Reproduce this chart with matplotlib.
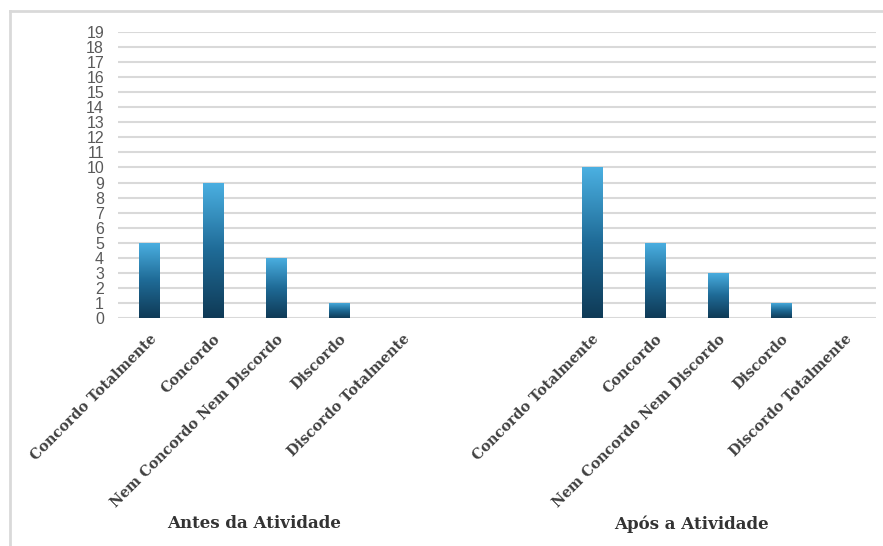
import numpy as np
import matplotlib
matplotlib.use("Agg")
import matplotlib.pyplot as plt
from matplotlib.colors import LinearSegmentedColormap
from matplotlib.lines import Line2D
import matplotlib.transforms as mtransforms

categories = ["Concordo Totalmente", "Concordo", "Nem Concordo Nem Discordo",
              "Discordo", "Discordo Totalmente"]
antes = [5, 9, 4, 1, 0]
apos = [10, 5, 3, 1, 0]
groups = ["Antes da Atividade", "Após a Atividade"]
yticks = list(range(0, 20))

fig = plt.figure(figsize=(8.83, 5.46), dpi=100)
ax = fig.add_axes([118/883, 1-318/546, (876-118)/883, (318-32)/546])

pos1 = np.arange(5)
pos2 = np.arange(7, 12)
positions = np.concatenate([pos1, pos2])
values = antes + apos
labels = categories + categories

width = 0.32
bars = ax.bar(positions, values, width=width, facecolor="none", edgecolor="none", zorder=5)

cmap = LinearSegmentedColormap.from_list("g", ["#0f3a56", "#1f6b97", "#4bb0e2"])
grad = np.linspace(0, 1, 256).reshape(-1, 1)
for b in bars:
    h = b.get_height()
    if h <= 0:
        continue
    x0 = b.get_x()
    w = b.get_width()
    im = ax.imshow(grad, extent=[x0, x0 + w, 0, h], origin="lower",
                   cmap=cmap, aspect="auto", zorder=6, interpolation="bilinear")
    im.set_clip_path(b)

ax.set_xlim(-0.5, 11.5)
ax.set_ylim(0, 19)
ax.set_yticks(yticks)
ax.set_yticklabels([str(t) for t in yticks], fontsize=11.5, color="#595959",
                   family="Liberation Sans")
ax.tick_params(axis="y", length=0, pad=10)
ax.yaxis.grid(True, color="#d9d9d9", linewidth=1.5)
for gl in ax.get_ygridlines():
    gl.set_zorder(0)
for s in ax.spines.values():
    s.set_visible(False)

ax.set_xticks(positions)
ax.set_xticklabels(labels, rotation=45, ha="right", rotation_mode="anchor",
                   fontsize=10.3, fontweight="bold", family="DejaVu Serif",
                   color="#404040")
ax.tick_params(axis="x", length=0, pad=10)

trans = mtransforms.blended_transform_factory(ax.transData, fig.transFigure)
ax.text(1.66, 1 - 524/546, groups[0], transform=trans, ha="center", va="center",
        fontsize=12, fontweight="bold", family="DejaVu Serif", color="#333333")
ax.text(8.58, 1 - 524/546, groups[1], transform=trans, ha="center", va="center",
        fontsize=12, fontweight="bold", family="DejaVu Serif", color="#333333")

fig.add_artist(Line2D([10/883, 1], [1 - 11/546, 1 - 11/546], transform=fig.transFigure,
                      color="#d9d9d9", linewidth=2))
fig.add_artist(Line2D([10/883, 10/883], [0, 1 - 11/546], transform=fig.transFigure,
                      color="#d9d9d9", linewidth=2))

fig.savefig("out.png", dpi=100)
